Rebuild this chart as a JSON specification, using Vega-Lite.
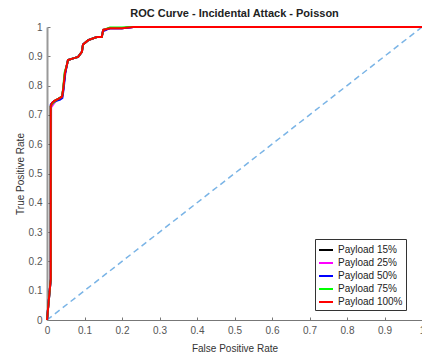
{
  "$schema": "https://vega.github.io/schema/vega-lite/v6.json",
  "width": 375,
  "height": 293,
  "autosize": "none",
  "padding": {"left": 47, "top": 27, "right": 0, "bottom": 35},
  "background": "white",
  "title": {"text": "ROC Curve - Incidental Attack - Poisson", "fontSize": 11, "fontWeight": "bold", "font": "Liberation Sans", "color": "#222", "anchor": "middle", "offset": 3},
  "config": {"view": {"stroke": null}},
  "datasets": {
    "roc": [
      {"series": "Payload 15%", "fpr": 0, "tpr": 0},
      {"series": "Payload 15%", "fpr": 0.01, "tpr": 0.14},
      {"series": "Payload 15%", "fpr": 0.01, "tpr": 0.73},
      {"series": "Payload 15%", "fpr": 0.013, "tpr": 0.74},
      {"series": "Payload 15%", "fpr": 0.02, "tpr": 0.748},
      {"series": "Payload 15%", "fpr": 0.03, "tpr": 0.755},
      {"series": "Payload 15%", "fpr": 0.04, "tpr": 0.762},
      {"series": "Payload 15%", "fpr": 0.043, "tpr": 0.785},
      {"series": "Payload 15%", "fpr": 0.048, "tpr": 0.843},
      {"series": "Payload 15%", "fpr": 0.053, "tpr": 0.87},
      {"series": "Payload 15%", "fpr": 0.056, "tpr": 0.887},
      {"series": "Payload 15%", "fpr": 0.07, "tpr": 0.893},
      {"series": "Payload 15%", "fpr": 0.083, "tpr": 0.898},
      {"series": "Payload 15%", "fpr": 0.093, "tpr": 0.915},
      {"series": "Payload 15%", "fpr": 0.096, "tpr": 0.94},
      {"series": "Payload 15%", "fpr": 0.11, "tpr": 0.955},
      {"series": "Payload 15%", "fpr": 0.133, "tpr": 0.966},
      {"series": "Payload 15%", "fpr": 0.146, "tpr": 0.966},
      {"series": "Payload 15%", "fpr": 0.15, "tpr": 0.99},
      {"series": "Payload 15%", "fpr": 0.168, "tpr": 0.996},
      {"series": "Payload 15%", "fpr": 0.2, "tpr": 0.996},
      {"series": "Payload 15%", "fpr": 0.23, "tpr": 1},
      {"series": "Payload 15%", "fpr": 1, "tpr": 1},

      {"series": "Payload 25%", "fpr": 0, "tpr": 0},
      {"series": "Payload 25%", "fpr": 0.01, "tpr": 0.14},
      {"series": "Payload 25%", "fpr": 0.011, "tpr": 0.725},
      {"series": "Payload 25%", "fpr": 0.016, "tpr": 0.735},
      {"series": "Payload 25%", "fpr": 0.022, "tpr": 0.745},
      {"series": "Payload 25%", "fpr": 0.03, "tpr": 0.753},
      {"series": "Payload 25%", "fpr": 0.04, "tpr": 0.76},
      {"series": "Payload 25%", "fpr": 0.043, "tpr": 0.785},
      {"series": "Payload 25%", "fpr": 0.048, "tpr": 0.843},
      {"series": "Payload 25%", "fpr": 0.053, "tpr": 0.87},
      {"series": "Payload 25%", "fpr": 0.056, "tpr": 0.887},
      {"series": "Payload 25%", "fpr": 0.07, "tpr": 0.893},
      {"series": "Payload 25%", "fpr": 0.083, "tpr": 0.898},
      {"series": "Payload 25%", "fpr": 0.093, "tpr": 0.915},
      {"series": "Payload 25%", "fpr": 0.096, "tpr": 0.94},
      {"series": "Payload 25%", "fpr": 0.11, "tpr": 0.955},
      {"series": "Payload 25%", "fpr": 0.133, "tpr": 0.966},
      {"series": "Payload 25%", "fpr": 0.146, "tpr": 0.966},
      {"series": "Payload 25%", "fpr": 0.15, "tpr": 0.99},
      {"series": "Payload 25%", "fpr": 0.168, "tpr": 0.996},
      {"series": "Payload 25%", "fpr": 0.2, "tpr": 0.996},
      {"series": "Payload 25%", "fpr": 0.23, "tpr": 1},
      {"series": "Payload 25%", "fpr": 1, "tpr": 1},

      {"series": "Payload 50%", "fpr": 0, "tpr": 0},
      {"series": "Payload 50%", "fpr": 0.01, "tpr": 0.14},
      {"series": "Payload 50%", "fpr": 0.01, "tpr": 0.735},
      {"series": "Payload 50%", "fpr": 0.015, "tpr": 0.742},
      {"series": "Payload 50%", "fpr": 0.025, "tpr": 0.748},
      {"series": "Payload 50%", "fpr": 0.035, "tpr": 0.752},
      {"series": "Payload 50%", "fpr": 0.041, "tpr": 0.758},
      {"series": "Payload 50%", "fpr": 0.044, "tpr": 0.785},
      {"series": "Payload 50%", "fpr": 0.049, "tpr": 0.843},
      {"series": "Payload 50%", "fpr": 0.053, "tpr": 0.87},
      {"series": "Payload 50%", "fpr": 0.056, "tpr": 0.887},
      {"series": "Payload 50%", "fpr": 0.07, "tpr": 0.893},
      {"series": "Payload 50%", "fpr": 0.083, "tpr": 0.898},
      {"series": "Payload 50%", "fpr": 0.093, "tpr": 0.915},
      {"series": "Payload 50%", "fpr": 0.096, "tpr": 0.94},
      {"series": "Payload 50%", "fpr": 0.11, "tpr": 0.955},
      {"series": "Payload 50%", "fpr": 0.133, "tpr": 0.966},
      {"series": "Payload 50%", "fpr": 0.146, "tpr": 0.966},
      {"series": "Payload 50%", "fpr": 0.149, "tpr": 0.985},
      {"series": "Payload 50%", "fpr": 0.168, "tpr": 0.996},
      {"series": "Payload 50%", "fpr": 0.2, "tpr": 0.996},
      {"series": "Payload 50%", "fpr": 0.23, "tpr": 1},
      {"series": "Payload 50%", "fpr": 1, "tpr": 1},

      {"series": "Payload 75%", "fpr": 0, "tpr": 0},
      {"series": "Payload 75%", "fpr": 0.01, "tpr": 0.14},
      {"series": "Payload 75%", "fpr": 0.01, "tpr": 0.73},
      {"series": "Payload 75%", "fpr": 0.014, "tpr": 0.738},
      {"series": "Payload 75%", "fpr": 0.021, "tpr": 0.747},
      {"series": "Payload 75%", "fpr": 0.03, "tpr": 0.755},
      {"series": "Payload 75%", "fpr": 0.04, "tpr": 0.762},
      {"series": "Payload 75%", "fpr": 0.043, "tpr": 0.79},
      {"series": "Payload 75%", "fpr": 0.047, "tpr": 0.845},
      {"series": "Payload 75%", "fpr": 0.053, "tpr": 0.87},
      {"series": "Payload 75%", "fpr": 0.056, "tpr": 0.887},
      {"series": "Payload 75%", "fpr": 0.07, "tpr": 0.893},
      {"series": "Payload 75%", "fpr": 0.083, "tpr": 0.898},
      {"series": "Payload 75%", "fpr": 0.093, "tpr": 0.915},
      {"series": "Payload 75%", "fpr": 0.096, "tpr": 0.94},
      {"series": "Payload 75%", "fpr": 0.11, "tpr": 0.955},
      {"series": "Payload 75%", "fpr": 0.133, "tpr": 0.966},
      {"series": "Payload 75%", "fpr": 0.146, "tpr": 0.966},
      {"series": "Payload 75%", "fpr": 0.15, "tpr": 0.99},
      {"series": "Payload 75%", "fpr": 0.168, "tpr": 0.998},
      {"series": "Payload 75%", "fpr": 0.2, "tpr": 0.998},
      {"series": "Payload 75%", "fpr": 0.22, "tpr": 1},
      {"series": "Payload 75%", "fpr": 1, "tpr": 1},

      {"series": "Payload 100%", "fpr": 0, "tpr": 0},
      {"series": "Payload 100%", "fpr": 0.01, "tpr": 0.14},
      {"series": "Payload 100%", "fpr": 0.01, "tpr": 0.73},
      {"series": "Payload 100%", "fpr": 0.013, "tpr": 0.74},
      {"series": "Payload 100%", "fpr": 0.02, "tpr": 0.748},
      {"series": "Payload 100%", "fpr": 0.03, "tpr": 0.755},
      {"series": "Payload 100%", "fpr": 0.04, "tpr": 0.762},
      {"series": "Payload 100%", "fpr": 0.043, "tpr": 0.785},
      {"series": "Payload 100%", "fpr": 0.048, "tpr": 0.843},
      {"series": "Payload 100%", "fpr": 0.053, "tpr": 0.87},
      {"series": "Payload 100%", "fpr": 0.056, "tpr": 0.887},
      {"series": "Payload 100%", "fpr": 0.07, "tpr": 0.893},
      {"series": "Payload 100%", "fpr": 0.083, "tpr": 0.898},
      {"series": "Payload 100%", "fpr": 0.093, "tpr": 0.915},
      {"series": "Payload 100%", "fpr": 0.096, "tpr": 0.94},
      {"series": "Payload 100%", "fpr": 0.11, "tpr": 0.955},
      {"series": "Payload 100%", "fpr": 0.133, "tpr": 0.966},
      {"series": "Payload 100%", "fpr": 0.146, "tpr": 0.966},
      {"series": "Payload 100%", "fpr": 0.15, "tpr": 0.99},
      {"series": "Payload 100%", "fpr": 0.168, "tpr": 0.996},
      {"series": "Payload 100%", "fpr": 0.2, "tpr": 0.996},
      {"series": "Payload 100%", "fpr": 0.23, "tpr": 1},
      {"series": "Payload 100%", "fpr": 1, "tpr": 1}
    ],
    "diag": [
      {"fpr": 0, "tpr": 0},
      {"fpr": 1, "tpr": 1}
    ]
  },
  "layer": [
    {
      "data": {"name": "diag"},
      "mark": {"type": "line", "color": "#7ab4e6", "strokeWidth": 1.5, "strokeDash": [6, 4], "clip": true},
      "encoding": {
        "x": {"field": "fpr", "type": "quantitative"},
        "y": {"field": "tpr", "type": "quantitative"}
      }
    },
    {
      "data": {"name": "roc"},
      "mark": {"type": "line", "strokeWidth": 2, "interpolate": "linear"},
      "encoding": {
        "x": {
          "field": "fpr", "type": "quantitative",
          "scale": {"domain": [0, 1], "nice": false, "zero": false},
          "axis": {
            "title": "False Positive Rate", "titleFont": "Liberation Sans", "titleFontSize": 10, "titleFontWeight": "normal", "titleColor": "#333", "titlePadding": 8,
            "values": [0, 0.1, 0.2, 0.3, 0.4, 0.5, 0.6, 0.7, 0.8, 0.9, 1],
            "tickCount": 11,
            "format": "~g", "labelFont": "Liberation Sans", "labelFontSize": 10, "labelColor": "#555", "labelPadding": 8,
            "tickSize": -3, "tickColor": "#777", "domainColor": "#777", "grid": false, "labelFlush": false, "labelOverlap": false, "labelBound": false
          }
        },
        "y": {
          "field": "tpr", "type": "quantitative",
          "scale": {"domain": [0, 1], "nice": false, "zero": false},
          "axis": {
            "title": "True Positive Rate", "titleFont": "Liberation Sans", "titleFontSize": 10, "titleFontWeight": "normal", "titleColor": "#333", "titlePadding": 3,
            "values": [0, 0.1, 0.2, 0.3, 0.4, 0.5, 0.6, 0.7, 0.8, 0.9, 1],
            "tickCount": 11,
            "format": "~g", "labelFont": "Liberation Sans", "labelFontSize": 10, "labelColor": "#555", "labelPadding": 8,
            "tickSize": -3, "tickColor": "#777", "domainColor": "#999", "domainWidth": 2, "grid": false, "labelFlush": false, "labelOverlap": false, "labelBound": false
          }
        },
        "color": {
          "field": "series", "type": "nominal",
          "scale": {
            "domain": ["Payload 15%", "Payload 25%", "Payload 50%", "Payload 75%", "Payload 100%"],
            "range": ["#000000", "#ff00ff", "#0000ff", "#00ff00", "#ff0000"]
          },
          "legend": {
            "title": null, "orient": "none", "legendX": 268, "legendY": 212,
            "symbolType": "stroke", "symbolStrokeWidth": 2, "symbolSize": 196,
            "labelFont": "Liberation Sans", "labelFontSize": 10, "labelColor": "#222",
            "rowPadding": 0, "padding": 3, "strokeColor": "#333", "fillColor": "white", "labelOffset": 4
          }
        },
        "order": {"field": "fpr", "type": "quantitative"}
      }
    }
  ]
}
